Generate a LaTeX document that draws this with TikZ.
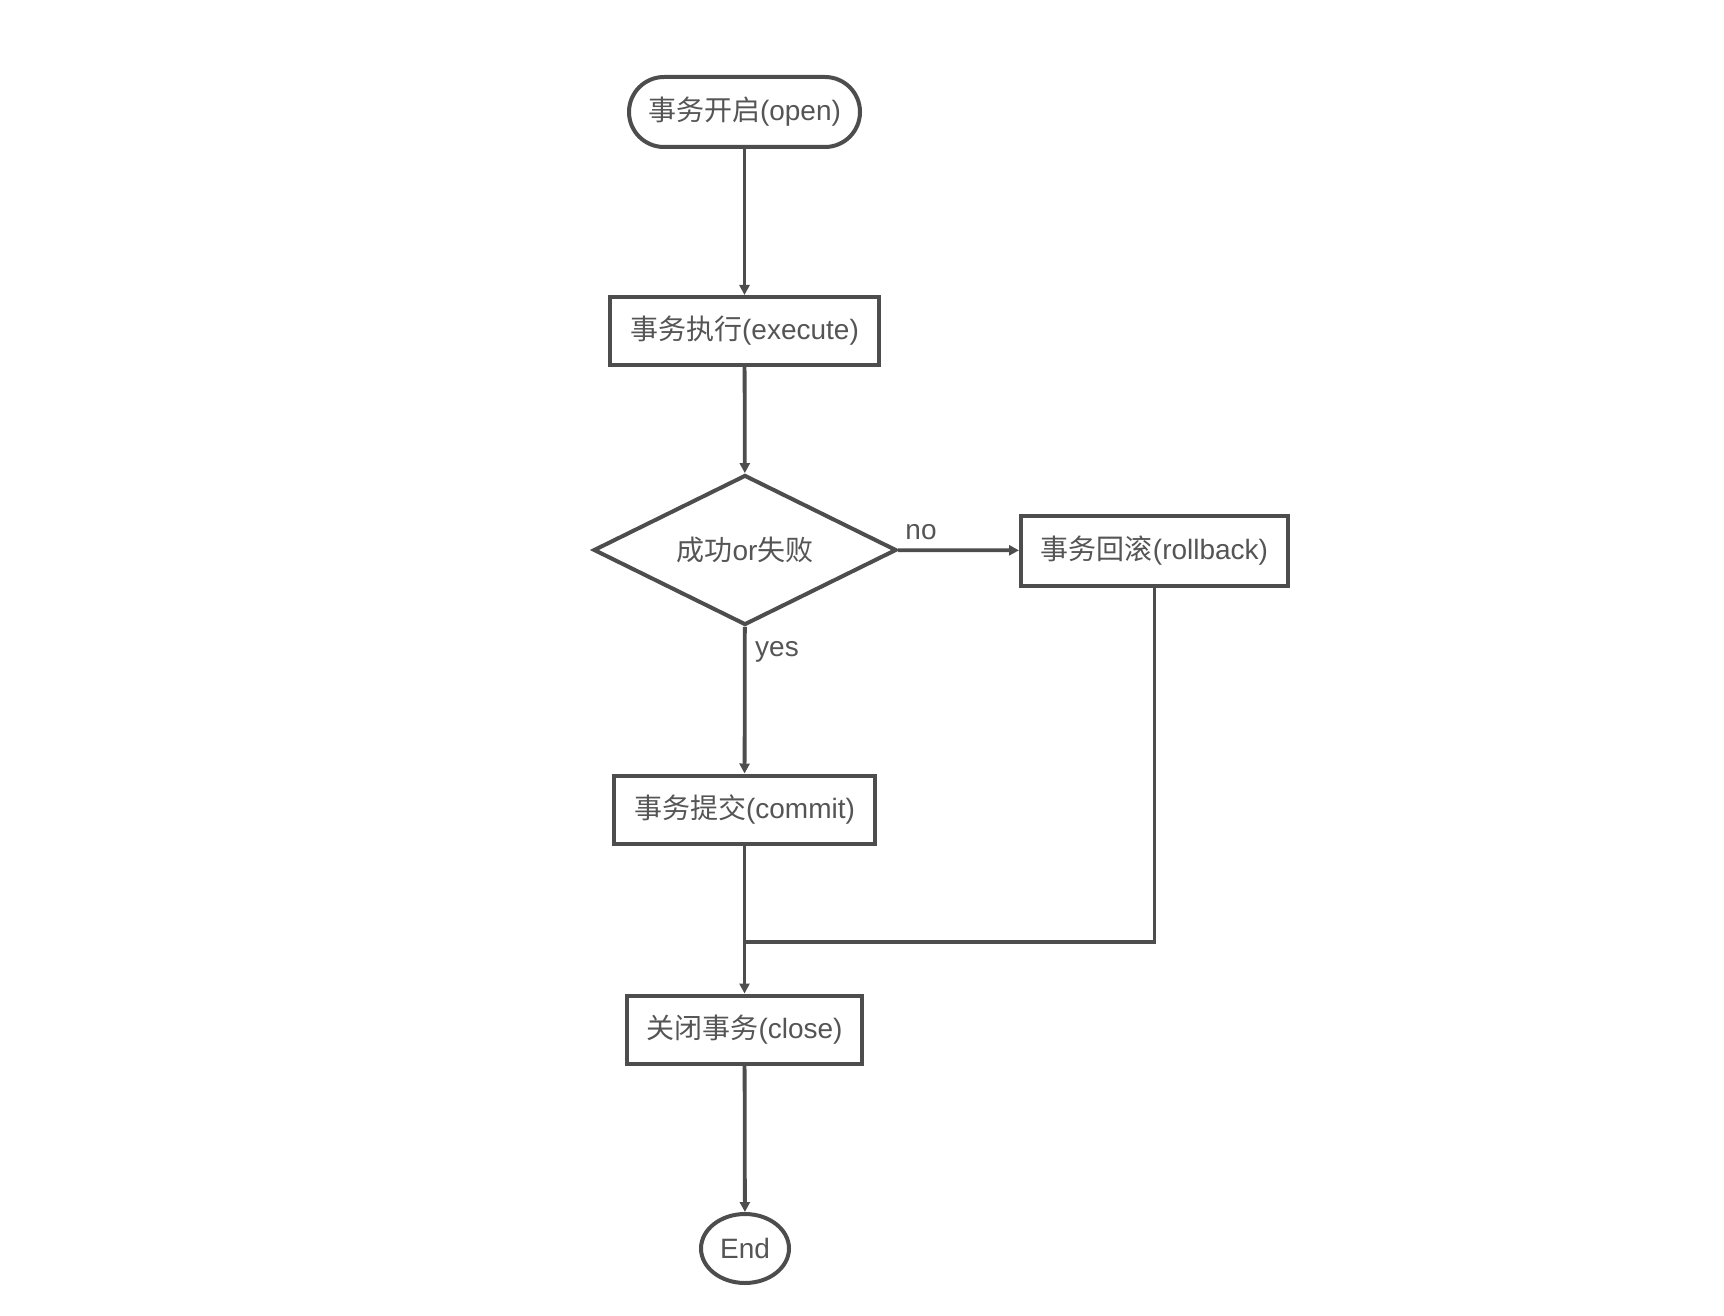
\documentclass[tikz,border=0pt]{standalone}
\usepackage{fontspec}
\setmainfont{Liberation Sans}
\newfontfamily\cjk{Noto Sans CJK SC}
\usetikzlibrary{shapes.geometric,arrows.meta}
\definecolor{linec}{HTML}{4D4D4D}
\definecolor{textc}{HTML}{555555}
\tikzset{
  base/.style={draw=linec, line width=2pt, text=textc, font=\fontsize{14pt}{16pt}\selectfont, inner sep=0pt, fill=white},
  termbox/.style={base, rectangle, rounded corners=17.5pt},
  procbox/.style={base, rectangle},
  decbox/.style={base, diamond, shape aspect=2},
  endbox/.style={base, ellipse},
  conn/.style={draw=linec, line width=1.9pt, -{Triangle[length=5pt,width=5pt]}},
  plain/.style={draw=linec, line width=1.9pt},
  lbl/.style={text=textc, font=\fontsize{14pt}{16pt}\selectfont, inner sep=0pt}
}
\begin{document}
\begin{tikzpicture}[x=0.5pt,y=-0.5pt]
\useasboundingbox (0,0) rectangle (1724,1316);
\node[termbox, minimum width=115.5pt, minimum height=35pt] (start) at (744.5,112) {{\cjk 事务开启}(open)};
\node[procbox, minimum width=134.5pt, minimum height=34pt] (exec) at (744.5,331) {{\cjk 事务执行}(execute)};
\node[decbox, minimum width=151.5pt, minimum height=75pt] (dec) at (745,550) {{\cjk 成功}or{\cjk 失败}};
\node[procbox, minimum width=133.5pt, minimum height=35pt] (roll) at (1154.5,550.5) {{\cjk 事务回滚}(rollback)};
\node[procbox, minimum width=130.5pt, minimum height=34pt] (commit) at (744.5,809.5) {{\cjk 事务提交}(commit)};
\node[procbox, minimum width=117.5pt, minimum height=34pt] (close) at (744.5,1029.5) {{\cjk 关闭事务}(close)};
\node[endbox, minimum width=44pt, minimum height=34.5pt] (end) at (745,1248.5) {End};
\coordinate (junc) at (745,942);
\draw[conn] (start) -- (exec);
\draw[conn] (exec) -- (dec);
\draw[conn] (dec) -- (roll);
\draw[conn] (dec) -- (commit);
\draw[conn] (commit) -- (close);
\draw[plain] (roll.south) |- (junc);
\draw[conn] (close) -- (end);
\node[lbl] (nolbl) at (921,532) {no};
\node[lbl] (yeslbl) at (777,652) {yes};
\end{tikzpicture}
\end{document}
